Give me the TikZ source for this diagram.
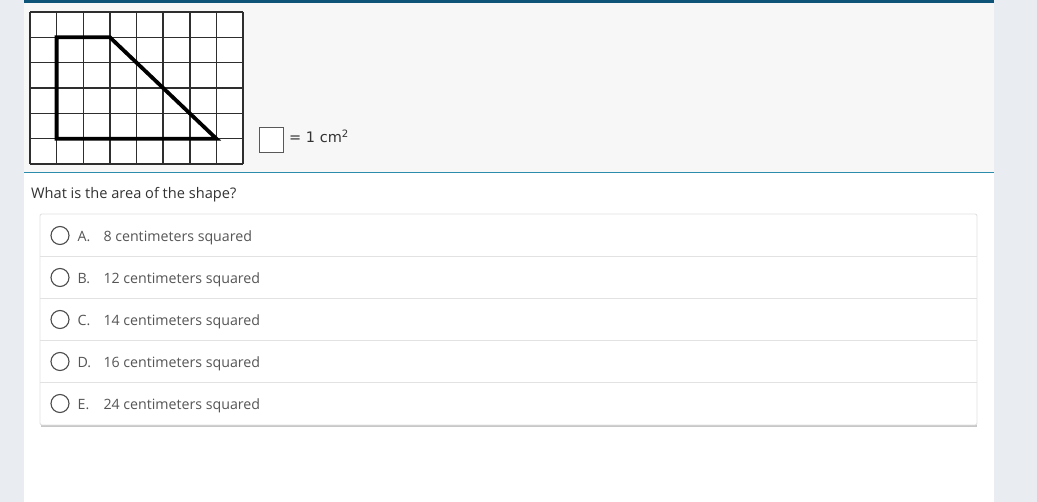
\documentclass[tikz,border=0pt]{standalone}
\usepackage{fontspec}
\setmainfont{Open Sans}
\newfontfamily\legendfont{DejaVu Sans}
\definecolor{sidebg}{HTML}{E9ECF1}
\definecolor{topbg}{HTML}{F7F7F7}
\definecolor{topbar}{HTML}{0D5478}
\definecolor{tealline}{HTML}{2B8CAB}
\definecolor{gridc}{HTML}{2E2E2E}
\definecolor{qtext}{HTML}{333333}
\definecolor{otext}{HTML}{555555}
\definecolor{sepc}{HTML}{E2E2E2}
\tikzset{
  gridline/.style={draw=gridc, line width=1.5pt},
  shapeline/.style={draw=black, line width=3.8pt, line join=miter},
  radio/.style={circle, draw=otext!90!black, line width=1.1pt, minimum size=18pt, inner sep=0pt},
  letter/.style={anchor=base west, text=otext, font=\fontsize{14.2}{16}\selectfont, inner sep=0pt},
  opttext/.style={anchor=base west, text=otext, font=\fontsize{14.2}{16}\selectfont, inner sep=0pt},
}
\begin{document}
\begin{tikzpicture}[x=1pt,y=-1pt]
\useasboundingbox (0,0) rectangle (1037,502);
\fill[sidebg] (0,0) rectangle (1037,502);
\fill[white] (24,0) rectangle (994,502);
\fill[topbg] (24,3) rectangle (994,172);
\fill[topbar] (24,0) rectangle (994,3);
\fill[tealline] (24,171.6) rectangle (994,173.4);
% grid
\fill[white] (30,12) rectangle (243,164);
\foreach \i in {0,...,8} {
  \draw[gridline] ({30+\i*26.625},12) -- ({30+\i*26.625},164);
}
\foreach \j in {0,...,6} {
  \draw[gridline] (30,{12+\j*25.333}) -- (243,{12+\j*25.333});
}
\draw[shapeline] (56.6,37.3) -- (109.9,37.3) -- (216.4,138.7) -- (56.6,138.7) -- cycle;
% legend
\node[draw=gray!70!black, line width=0.9pt, fill=white, minimum width=24pt, minimum height=25pt, inner sep=0pt] (unit) at (271,139.5) {};
\node[anchor=base west, text=qtext, font=\legendfont\fontsize{14.5}{16}\selectfont, inner sep=0pt] (unitlabel) at (289,142.3) {= 1 cm\textsuperscript{2}};
% question
\node[anchor=base west, text=qtext, font=\fontsize{14.6}{16}\selectfont, inner sep=0pt] (question) at (31,198.3) {What is the area of the shape?};
% options box
\fill[black!22] (41,424) rectangle (977,427);
\draw[sepc, fill=white, rounded corners=2pt, line width=0.9pt] (40,214) rectangle (977,425);
\foreach \k in {1,...,4} {
  \draw[sepc, line width=0.9pt] (40,{214+\k*42}) -- (977,{214+\k*42});
}
\foreach \L/\T [count=\k from 0] in {A/8 centimeters squared, B/12 centimeters squared, C/14 centimeters squared, D/16 centimeters squared, E/24 centimeters squared} {
  \node[radio] (r\L) at (60,{235.5+\k*42}) {};
  \node[letter] (l\L) at (77.5,{241.3+\k*42}) {\L.};
  \node[opttext] (t\L) at (103.3,{241.3+\k*42}) {\T};
}
\end{tikzpicture}
\end{document}
